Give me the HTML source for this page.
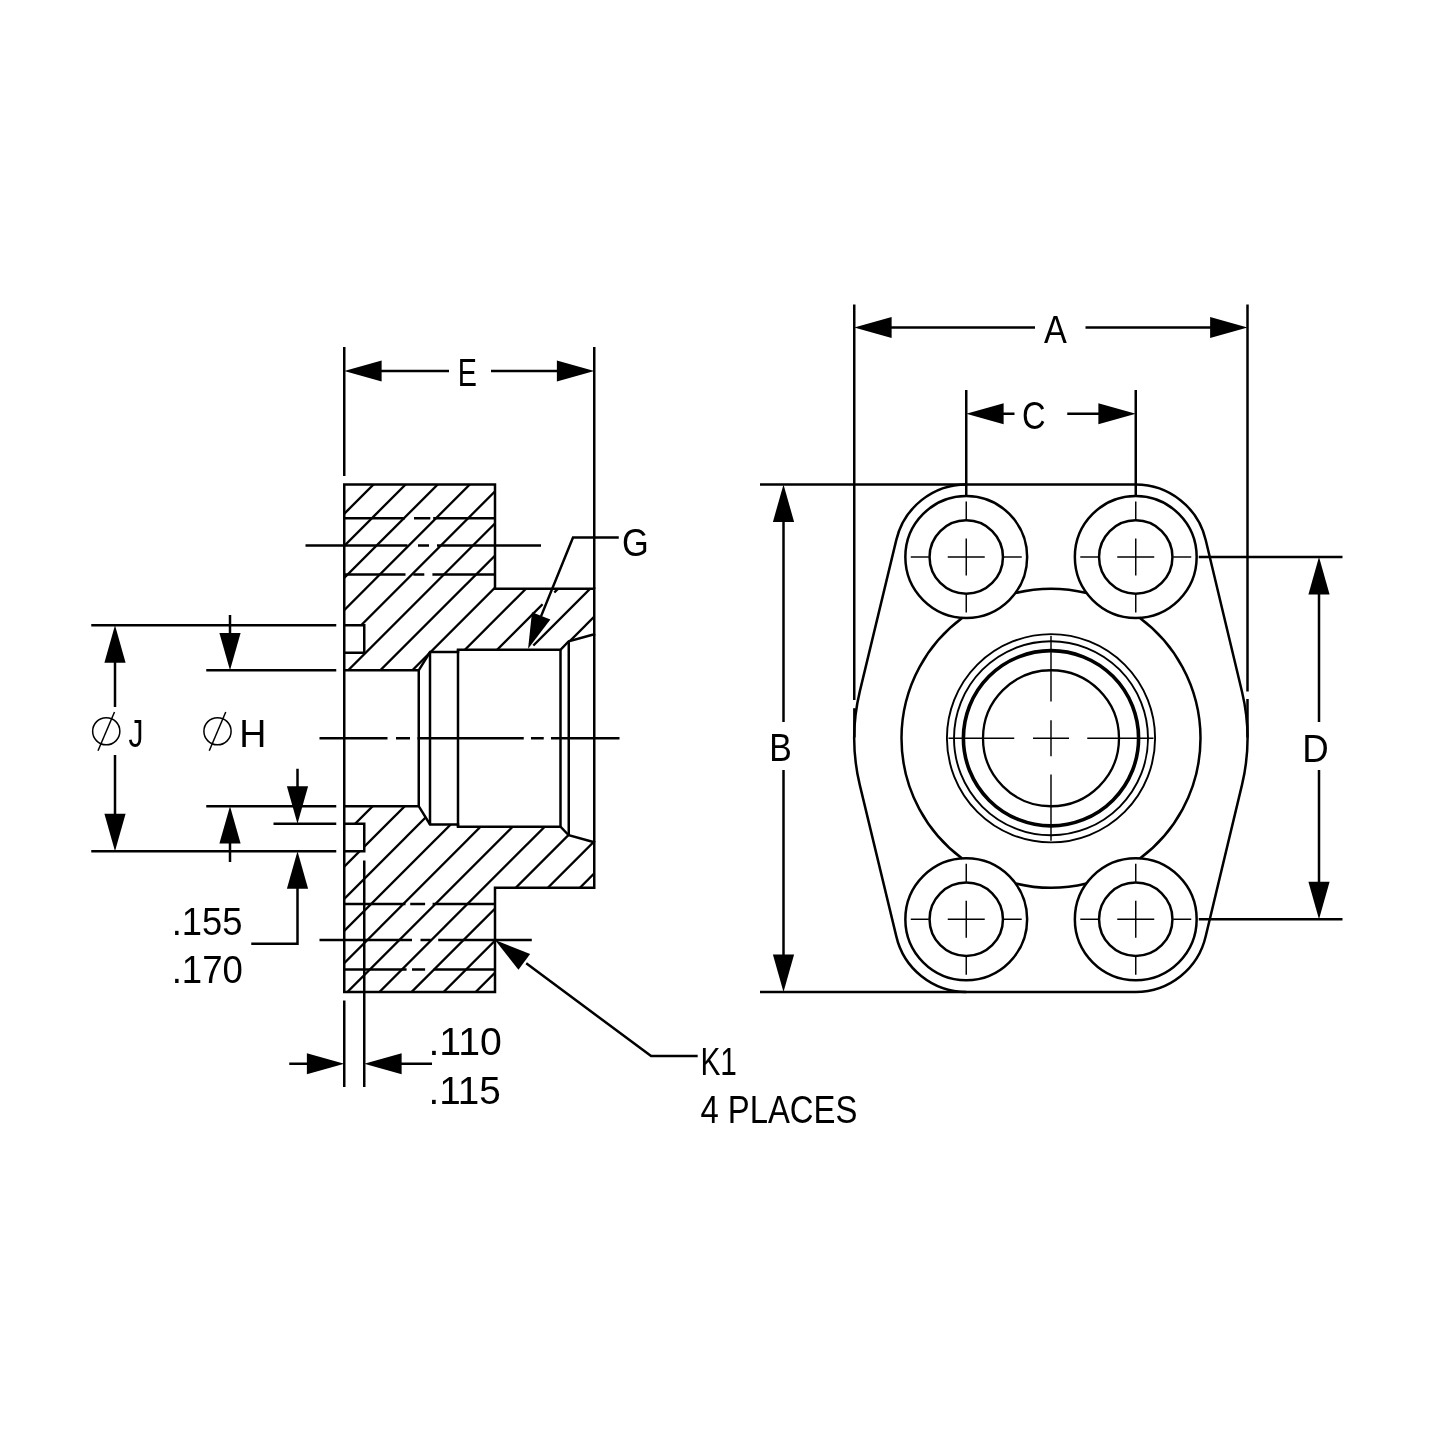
<!DOCTYPE html>
<html lang="en">
<head>
<meta charset="utf-8">
<title>Flange drawing</title>
<style>
html,body{margin:0;padding:0;background:#fff;}
body{width:1432px;height:1432px;overflow:hidden;}
svg{display:block;will-change:transform;}
svg *{fill:none;stroke:#000;stroke-linecap:butt;stroke-linejoin:miter;}
svg text{fill:#000;stroke:none;font-family:"Liberation Sans",sans-serif;}
svg .f{fill:#000;stroke:none;}
</style>
</head>
<body>
<svg width="1432" height="1432" viewBox="0 0 1432 1432">
<rect x="0" y="0" width="1432" height="1432" style="fill:#fff;stroke:none"/>
<defs><clipPath id="hc" clip-rule="evenodd">
<path clip-rule="evenodd" d="M344.25,484.50 L495.00,484.50 L495.00,588.75 L594.25,588.75 L594.25,634.25 L568.75,641.25 L560.50,649.75 L458.00,649.75 L458.00,652.00 L430.00,652.00 L418.75,670.35 L344.25,670.35Z M344.25,652.75 L364.25,652.75 L364.25,625.25 L344.25,625.25Z M344.25,992.00 L495.00,992.00 L495.00,887.75 L594.25,887.75 L594.25,842.25 L568.75,835.25 L560.50,826.75 L458.00,826.75 L458.00,824.50 L430.00,824.50 L418.75,806.15 L344.25,806.15Z M344.25,823.75 L364.25,823.75 L364.25,851.25 L344.25,851.25Z"/>
</clipPath></defs>
<g clip-path="url(#hc)" stroke-width="2.3">
<line x1="330.00" y1="528.00" x2="610.00" y2="248.00"/>
<line x1="330.00" y1="560.09" x2="610.00" y2="280.09"/>
<line x1="330.00" y1="592.18" x2="610.00" y2="312.18"/>
<line x1="330.00" y1="624.27" x2="610.00" y2="344.27"/>
<line x1="330.00" y1="656.36" x2="610.00" y2="376.36"/>
<line x1="330.00" y1="688.45" x2="610.00" y2="408.45"/>
<line x1="330.00" y1="720.54" x2="610.00" y2="440.54"/>
<line x1="330.00" y1="752.63" x2="610.00" y2="472.63"/>
<line x1="330.00" y1="784.72" x2="610.00" y2="504.72"/>
<line x1="330.00" y1="816.81" x2="610.00" y2="536.81"/>
<line x1="330.00" y1="848.90" x2="610.00" y2="568.90"/>
<line x1="330.00" y1="880.99" x2="610.00" y2="600.99"/>
<line x1="330.00" y1="913.08" x2="610.00" y2="633.08"/>
<line x1="330.00" y1="945.17" x2="610.00" y2="665.17"/>
<line x1="330.00" y1="977.26" x2="610.00" y2="697.26"/>
<line x1="330.00" y1="1009.35" x2="610.00" y2="729.35"/>
<line x1="330.00" y1="1041.44" x2="610.00" y2="761.44"/>
<line x1="330.00" y1="1073.53" x2="610.00" y2="793.53"/>
<line x1="330.00" y1="1105.62" x2="610.00" y2="825.62"/>
<line x1="330.00" y1="1137.71" x2="610.00" y2="857.71"/>
<line x1="330.00" y1="1169.80" x2="610.00" y2="889.80"/>
</g>
<line x1="542.6" y1="604.2" x2="554.3" y2="592.5" style="stroke:#fff" stroke-width="3.4"/>
<line x1="528.0" y1="651.0" x2="533.4" y2="645.6" style="stroke:#fff" stroke-width="3.4"/>
<path d="M344.25,484.50 L495.00,484.50 L495.00,588.75 L594.25,588.75 L594.25,634.25 L568.75,641.25 L560.50,649.75 L458.00,649.75 L458.00,652.00 L430.00,652.00 L418.75,670.35 L344.25,670.35Z" stroke-width="2.5"/>
<path d="M344.25,652.75 L364.25,652.75 L364.25,625.25 L344.25,625.25" stroke-width="2.5"/>
<path d="M344.25,992.00 L495.00,992.00 L495.00,887.75 L594.25,887.75 L594.25,842.25 L568.75,835.25 L560.50,826.75 L458.00,826.75 L458.00,824.50 L430.00,824.50 L418.75,806.15 L344.25,806.15Z" stroke-width="2.5"/>
<path d="M344.25,823.75 L364.25,823.75 L364.25,851.25 L344.25,851.25" stroke-width="2.5"/>
<line x1="344.25" y1="670.35" x2="344.25" y2="806.15" stroke-width="2.5"/>
<line x1="418.75" y1="670.35" x2="418.75" y2="806.15" stroke-width="2.5"/>
<line x1="430.00" y1="652.00" x2="430.00" y2="824.50" stroke-width="2.5"/>
<line x1="458.00" y1="649.75" x2="458.00" y2="826.75" stroke-width="2.5"/>
<line x1="560.50" y1="649.75" x2="560.50" y2="826.75" stroke-width="2.5"/>
<line x1="568.75" y1="641.25" x2="568.75" y2="835.25" stroke-width="2.5"/>
<line x1="344.25" y1="347.00" x2="344.25" y2="476.00" stroke-width="2.5"/>
<line x1="594.25" y1="347.00" x2="594.25" y2="588.75" stroke-width="2.5"/>
<line x1="594.25" y1="634.25" x2="594.25" y2="842.25" stroke-width="2.5"/>
<line x1="380.65" y1="371.00" x2="449.00" y2="371.00" stroke-width="2.5"/>
<line x1="491.00" y1="371.00" x2="557.85" y2="371.00" stroke-width="2.5"/>
<polygon class="f" points="344.25,371.00 381.65,360.40 381.65,381.60"/>
<polygon class="f" points="594.25,371.00 556.85,381.60 556.85,360.40"/>
<text transform="translate(457.64,386.00) scale(0.7366,1)" font-size="39.0">E</text>
<line x1="319.50" y1="738.25" x2="387.50" y2="738.25" stroke-width="2.5"/>
<line x1="396.00" y1="738.25" x2="410.00" y2="738.25" stroke-width="2.5"/>
<line x1="417.50" y1="738.25" x2="523.75" y2="738.25" stroke-width="2.5"/>
<line x1="531.00" y1="738.25" x2="543.75" y2="738.25" stroke-width="2.5"/>
<line x1="551.00" y1="738.25" x2="619.50" y2="738.25" stroke-width="2.5"/>
<line x1="344.25" y1="518.25" x2="405.00" y2="518.25" stroke-width="2.5"/>
<line x1="414.00" y1="518.25" x2="430.30" y2="518.25" stroke-width="2.5"/>
<line x1="433.20" y1="518.25" x2="495.00" y2="518.25" stroke-width="2.5"/>
<line x1="305.50" y1="545.50" x2="407.50" y2="545.50" stroke-width="2.5"/>
<line x1="418.00" y1="545.50" x2="429.00" y2="545.50" stroke-width="2.5"/>
<line x1="437.00" y1="545.50" x2="541.00" y2="545.50" stroke-width="2.5"/>
<line x1="344.25" y1="574.50" x2="405.50" y2="574.50" stroke-width="2.5"/>
<line x1="413.30" y1="574.50" x2="424.30" y2="574.50" stroke-width="2.5"/>
<line x1="432.40" y1="574.50" x2="495.00" y2="574.50" stroke-width="2.5"/>
<line x1="344.25" y1="904.00" x2="405.50" y2="904.00" stroke-width="2.5"/>
<line x1="410.20" y1="904.00" x2="425.10" y2="904.00" stroke-width="2.5"/>
<line x1="432.60" y1="904.00" x2="495.00" y2="904.00" stroke-width="2.5"/>
<line x1="319.50" y1="940.00" x2="412.00" y2="940.00" stroke-width="2.5"/>
<line x1="420.50" y1="940.00" x2="430.80" y2="940.00" stroke-width="2.5"/>
<line x1="438.20" y1="940.00" x2="531.80" y2="940.00" stroke-width="2.5"/>
<line x1="344.25" y1="969.50" x2="406.60" y2="969.50" stroke-width="2.5"/>
<line x1="412.00" y1="969.50" x2="425.10" y2="969.50" stroke-width="2.5"/>
<line x1="433.60" y1="969.50" x2="495.00" y2="969.50" stroke-width="2.5"/>
<line x1="91.25" y1="625.25" x2="336.25" y2="625.25" stroke-width="2.5"/>
<line x1="91.25" y1="851.25" x2="336.25" y2="851.25" stroke-width="2.5"/>
<line x1="206.25" y1="670.35" x2="336.25" y2="670.35" stroke-width="2.5"/>
<line x1="206.25" y1="806.15" x2="336.25" y2="806.15" stroke-width="2.5"/>
<line x1="273.50" y1="823.75" x2="336.25" y2="823.75" stroke-width="2.5"/>
<polygon class="f" points="115.00,625.25 125.60,662.65 104.40,662.65"/>
<polygon class="f" points="115.00,851.25 104.40,813.85 125.60,813.85"/>
<line x1="115.00" y1="661.65" x2="115.00" y2="707.00" stroke-width="2.5"/>
<line x1="115.00" y1="755.00" x2="115.00" y2="814.85" stroke-width="2.5"/>
<polygon class="f" points="230.00,670.35 219.40,632.95 240.60,632.95"/>
<polygon class="f" points="230.00,806.15 240.60,843.55 219.40,843.55"/>
<line x1="230.00" y1="615.00" x2="230.00" y2="633.95" stroke-width="2.5"/>
<line x1="230.00" y1="842.55" x2="230.00" y2="862.00" stroke-width="2.5"/>
<polygon class="f" points="297.50,823.75 286.90,786.35 308.10,786.35"/>
<polygon class="f" points="297.50,851.25 308.10,888.65 286.90,888.65"/>
<line x1="297.50" y1="768.75" x2="297.50" y2="787.35" stroke-width="2.5"/>
<path d="M297.5,887.65 L297.5,943.75 L251.25,943.75" stroke-width="2.5"/>
<text transform="translate(171.69,934.50) scale(0.9500,1)" font-size="38.3">.155</text>
<text transform="translate(171.67,983.00) scale(0.9556,1)" font-size="38.3">.170</text>
<circle cx="106.25" cy="731.25" r="13.6" stroke-width="1.5"/>
<line x1="98.00" y1="750.75" x2="114.50" y2="712.00" stroke-width="1.5"/>
<circle cx="217.5" cy="731.25" r="13.6" stroke-width="1.5"/>
<line x1="209.25" y1="750.75" x2="225.75" y2="712.00" stroke-width="1.5"/>
<text transform="translate(128.45,746.70) scale(0.7674,1)" font-size="39.0">J</text>
<text transform="translate(239.32,746.70) scale(0.9633,1)" font-size="39.0">H</text>
<line x1="344.25" y1="1000.50" x2="344.25" y2="1087.00" stroke-width="2.5"/>
<line x1="364.25" y1="860.50" x2="364.25" y2="1087.00" stroke-width="2.5"/>
<polygon class="f" points="344.25,1063.75 306.85,1074.35 306.85,1053.15"/>
<polygon class="f" points="364.25,1063.75 401.65,1053.15 401.65,1074.35"/>
<line x1="289.25" y1="1063.75" x2="307.85" y2="1063.75" stroke-width="2.5"/>
<line x1="400.65" y1="1063.75" x2="432.00" y2="1063.75" stroke-width="2.5"/>
<text transform="translate(428.43,1054.70) scale(1.0231,1)" font-size="38.3">.110</text>
<text transform="translate(428.48,1103.50) scale(1.0099,1)" font-size="38.3">.115</text>
<path d="M618.75,537.5 L573.0,537.5 L541.1,616.1" stroke-width="2.5"/>
<polygon class="f" points="528.10,648.80 531.98,612.25 550.38,619.56"/>
<text transform="translate(622.03,556.30) scale(0.8821,1)" font-size="39.0">G</text>
<path d="M697.7,1056.1 L651.1,1056.1 L526.22,963.22" stroke-width="2.5"/>
<polygon class="f" points="495.00,940.00 530.14,953.92 518.44,969.65"/>
<text transform="translate(700.45,1075.00) scale(0.7648,1)" font-size="39.0">K1</text>
<text transform="translate(700.38,1122.70) scale(0.8422,1)" font-size="39.0">4 PLACES</text>
<path d="M966.25,484.5 L1135.75,484.5 A72.0,72.0 0 0 1 1205.77,540.25 L1242.01,691.72 A200.0,200.0 0 0 1 1241.99,784.86 L1205.77,936.03 A72.0,72.0 0 0 1 1135.75,992.0 L966.25,992.0 A72.0,72.0 0 0 1 896.26,936.14 L859.83,785.16 A200.0,200.0 0 0 1 859.81,691.41 L896.25,540.14 A72.0,72.0 0 0 1 966.25,484.5Z" stroke-width="2.5"/>
<path d="M1015.32,593.07 A149.5,149.5 0 0 1 1086.68,593.07" stroke-width="2.5"/>
<path d="M1139.53,617.78 A149.5,149.5 0 0 1 1139.84,858.49" stroke-width="2.5"/>
<path d="M1086.46,883.48 A149.5,149.5 0 0 1 1015.54,883.48" stroke-width="2.5"/>
<path d="M962.16,858.49 A149.5,149.5 0 0 1 962.47,617.78" stroke-width="2.5"/>
<circle cx="1051.0" cy="738.25" r="104.1" stroke-width="1.9"/>
<circle cx="1051.0" cy="738.25" r="97" stroke-width="1.9"/>
<circle cx="1051.0" cy="738.25" r="87.6" stroke-width="3.6"/>
<circle cx="1051.0" cy="738.25" r="68.0" stroke-width="2.3"/>
<line x1="948.50" y1="738.25" x2="1014.25" y2="738.25" stroke-width="1.45"/>
<line x1="1051.00" y1="635.75" x2="1051.00" y2="701.50" stroke-width="1.45"/>
<line x1="1033.00" y1="738.25" x2="1069.00" y2="738.25" stroke-width="1.45"/>
<line x1="1051.00" y1="720.25" x2="1051.00" y2="756.25" stroke-width="1.45"/>
<line x1="1087.25" y1="738.25" x2="1153.50" y2="738.25" stroke-width="1.45"/>
<line x1="1051.00" y1="774.50" x2="1051.00" y2="840.75" stroke-width="1.45"/>
<circle cx="966.25" cy="557.0" r="60.9" stroke-width="2.5"/>
<circle cx="966.25" cy="557.0" r="36.7" stroke-width="2.5"/>
<line x1="910.75" y1="557.00" x2="928.75" y2="557.00" stroke-width="1.45"/>
<line x1="966.25" y1="501.50" x2="966.25" y2="519.50" stroke-width="1.45"/>
<line x1="947.75" y1="557.00" x2="984.75" y2="557.00" stroke-width="1.45"/>
<line x1="966.25" y1="538.50" x2="966.25" y2="575.50" stroke-width="1.45"/>
<line x1="1003.75" y1="557.00" x2="1021.75" y2="557.00" stroke-width="1.45"/>
<line x1="966.25" y1="594.50" x2="966.25" y2="612.50" stroke-width="1.45"/>
<circle cx="966.25" cy="919.25" r="60.9" stroke-width="2.5"/>
<circle cx="966.25" cy="919.25" r="36.7" stroke-width="2.5"/>
<line x1="910.75" y1="919.25" x2="928.75" y2="919.25" stroke-width="1.45"/>
<line x1="966.25" y1="863.75" x2="966.25" y2="881.75" stroke-width="1.45"/>
<line x1="947.75" y1="919.25" x2="984.75" y2="919.25" stroke-width="1.45"/>
<line x1="966.25" y1="900.75" x2="966.25" y2="937.75" stroke-width="1.45"/>
<line x1="1003.75" y1="919.25" x2="1021.75" y2="919.25" stroke-width="1.45"/>
<line x1="966.25" y1="956.75" x2="966.25" y2="974.75" stroke-width="1.45"/>
<circle cx="1135.75" cy="557.0" r="60.9" stroke-width="2.5"/>
<circle cx="1135.75" cy="557.0" r="36.7" stroke-width="2.5"/>
<line x1="1080.25" y1="557.00" x2="1098.25" y2="557.00" stroke-width="1.45"/>
<line x1="1135.75" y1="501.50" x2="1135.75" y2="519.50" stroke-width="1.45"/>
<line x1="1117.25" y1="557.00" x2="1154.25" y2="557.00" stroke-width="1.45"/>
<line x1="1135.75" y1="538.50" x2="1135.75" y2="575.50" stroke-width="1.45"/>
<line x1="1173.25" y1="557.00" x2="1191.25" y2="557.00" stroke-width="1.45"/>
<line x1="1135.75" y1="594.50" x2="1135.75" y2="612.50" stroke-width="1.45"/>
<circle cx="1135.75" cy="919.25" r="60.9" stroke-width="2.5"/>
<circle cx="1135.75" cy="919.25" r="36.7" stroke-width="2.5"/>
<line x1="1080.25" y1="919.25" x2="1098.25" y2="919.25" stroke-width="1.45"/>
<line x1="1135.75" y1="863.75" x2="1135.75" y2="881.75" stroke-width="1.45"/>
<line x1="1117.25" y1="919.25" x2="1154.25" y2="919.25" stroke-width="1.45"/>
<line x1="1135.75" y1="900.75" x2="1135.75" y2="937.75" stroke-width="1.45"/>
<line x1="1173.25" y1="919.25" x2="1191.25" y2="919.25" stroke-width="1.45"/>
<line x1="1135.75" y1="956.75" x2="1135.75" y2="974.75" stroke-width="1.45"/>
<line x1="854.25" y1="304.50" x2="854.25" y2="700.00" stroke-width="2.5"/>
<line x1="1247.50" y1="304.50" x2="1247.50" y2="691.50" stroke-width="2.5"/>
<line x1="854.35" y1="708.20" x2="854.35" y2="737.50" stroke-width="2.5"/>
<line x1="1247.50" y1="699.00" x2="1247.50" y2="737.50" stroke-width="2.5"/>
<polygon class="f" points="854.25,327.50 891.65,316.90 891.65,338.10"/>
<polygon class="f" points="1247.50,327.50 1210.10,338.10 1210.10,316.90"/>
<line x1="890.65" y1="327.50" x2="1035.00" y2="327.50" stroke-width="2.5"/>
<line x1="1085.50" y1="327.50" x2="1211.10" y2="327.50" stroke-width="2.5"/>
<text transform="translate(1043.93,343.00) scale(0.8779,1)" font-size="39.0">A</text>
<line x1="966.25" y1="390.00" x2="966.25" y2="495.50" stroke-width="2.5"/>
<line x1="1135.75" y1="390.00" x2="1135.75" y2="495.50" stroke-width="2.5"/>
<polygon class="f" points="966.25,413.75 1003.65,403.15 1003.65,424.35"/>
<polygon class="f" points="1135.75,413.75 1098.35,424.35 1098.35,403.15"/>
<line x1="1002.65" y1="413.75" x2="1014.50" y2="413.75" stroke-width="2.5"/>
<line x1="1067.25" y1="413.75" x2="1099.35" y2="413.75" stroke-width="2.5"/>
<text transform="translate(1022.07,428.90) scale(0.8359,1)" font-size="39.0">C</text>
<line x1="760.00" y1="484.50" x2="966.25" y2="484.50" stroke-width="2.5"/>
<line x1="760.00" y1="992.00" x2="966.25" y2="992.00" stroke-width="2.5"/>
<polygon class="f" points="783.50,484.50 794.10,521.90 772.90,521.90"/>
<polygon class="f" points="783.50,992.00 772.90,954.60 794.10,954.60"/>
<line x1="783.50" y1="520.90" x2="783.50" y2="722.00" stroke-width="2.5"/>
<line x1="783.50" y1="770.00" x2="783.50" y2="955.60" stroke-width="2.5"/>
<text transform="translate(769.23,761.20) scale(0.8659,1)" font-size="39.0">B</text>
<line x1="1198.75" y1="557.00" x2="1342.50" y2="557.00" stroke-width="2.5"/>
<line x1="1198.75" y1="919.25" x2="1342.50" y2="919.25" stroke-width="2.5"/>
<polygon class="f" points="1319.00,557.00 1329.60,594.40 1308.40,594.40"/>
<polygon class="f" points="1319.00,919.25 1308.40,881.85 1329.60,881.85"/>
<line x1="1319.00" y1="593.40" x2="1319.00" y2="722.00" stroke-width="2.5"/>
<line x1="1319.00" y1="770.00" x2="1319.00" y2="882.85" stroke-width="2.5"/>
<text transform="translate(1302.24,761.50) scale(0.9405,1)" font-size="39.0">D</text>
</svg>
</body>
</html>
